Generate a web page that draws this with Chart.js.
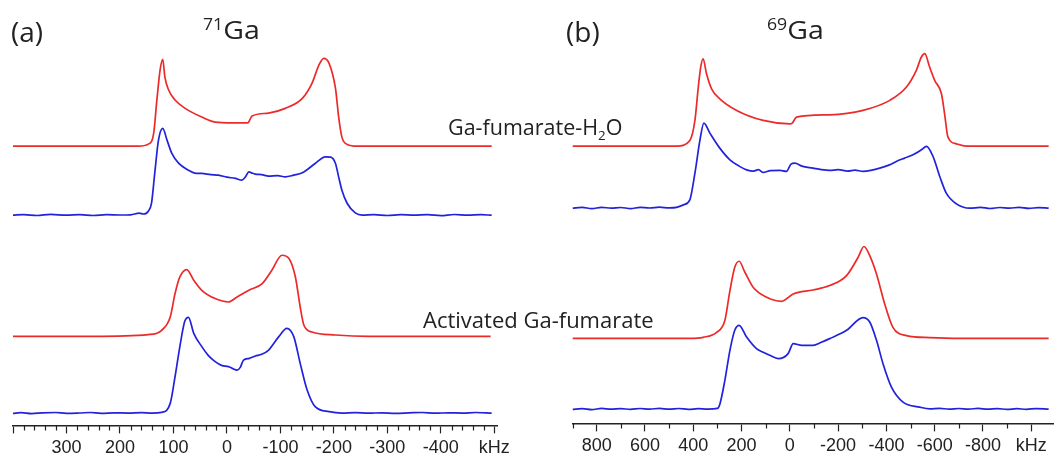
<!DOCTYPE html>
<html>
<head>
<meta charset="utf-8">
<script src="https://cdn.jsdelivr.net/npm/chart.js@4.4.1/dist/chart.umd.min.js"></script>
<style>
  body { margin:0; background:#fff; width:1060px; height:456px; position:relative; overflow:hidden; font-family: "Open Sans", Lato, sans-serif; color:#222; }
  .panel { position:absolute; top:0; width:530px; }
  .lbl { position:absolute; white-space:nowrap; line-height:1; }
  .wide { transform: scaleX(1.14); transform-origin: left top; }
  sup, sub { font-size:62%; line-height:0; }
</style>
</head>
<body>
<div class="panel" style="left:0;height:463px"><canvas id="ga71"></canvas></div>
<div class="panel" style="left:530px;height:461px"><canvas id="ga69"></canvas></div>
<div class="lbl" style="left:11px;top:17px;font-size:28px">(a)</div>
<div class="lbl wide" style="left:203px;top:17px;font-size:25px"><sup>71</sup>Ga</div>
<div class="lbl" style="left:566px;top:17px;font-size:28px">(b)</div>
<div class="lbl wide" style="left:767px;top:17px;font-size:25px"><sup>69</sup>Ga</div>
<div class="lbl" style="left:448px;top:116px;font-size:21.5px">Ga-fumarate-H<sub>2</sub>O</div>
<div class="lbl" style="left:423px;top:308px;font-size:22px">Activated Ga-fumarate</div>
<script>
// spectra: [kHz, intensity above own baseline (a.u.)]
// (a) 71Ga
const ga71_h2o_sim = [[400,0],[250,0],[165,0],[147,2],[137,12.7],[131,46],[125,76],[120,86.7],[116,69],[109,56],[97,46],[78,37.7],[47,29],[22,24],[-10,23.3],[-39,23.3],[-47,30],[-78,33],[-109,37.7],[-141,47.7],[-159,62.7],[-172,81],[-181,87.7],[-191,82.7],[-203,57.7],[-209,28.7],[-215,9],[-225,1.7],[-244,0],[-350,0],[-495,0]];
const ga71_h2o_exp = [[400,0],[380,0.6],[355,-0.3],[330,0.8],[300,0],[275,0.6],[250,-0.3],[225,0.5],[200,0.2],[180,0.4],[164,2],[156,1.2],[147,4],[141,12],[135,41.7],[128,75],[120,86.7],[112,75],[103,61.7],[90,51.7],[72,45],[60,42],[47,41.7],[30,40.5],[16,40],[0,38],[-16,36.7],[-28,35],[-35,38.5],[-41,43.3],[-47,42],[-53,41],[-65,40.5],[-78,39],[-95,39.5],[-109,38.3],[-125,40],[-141,42.3],[-165,51.7],[-184,58.3],[-194,58],[-203,51.7],[-209,38],[-215,25],[-225,11.7],[-240,2.3],[-253,0],[-275,0.5],[-300,-0.3],[-325,0.6],[-350,0],[-375,0.5],[-400,-0.4],[-425,0.7],[-450,0],[-475,0.5],[-495,0]];
const ga71_act_sim = [[400,0],[250,0],[147,1.7],[122,6],[106,19.3],[97,42.7],[88,59.3],[75,66.7],[62,56],[47,46],[22,37.7],[-3,34.3],[-19,39.3],[-41,46],[-66,52.7],[-84,66],[-103,81],[-116,77.7],[-128,59.3],[-137,29.3],[-144,11],[-159,4.3],[-203,1.3],[-266,0],[-493,0]];
const ga71_act_exp = [[400,0],[385,0.8],[365,-0.2],[345,0.5],[320,0.9],[300,0],[275,0.4],[255,0.9],[235,0.1],[210,0.6],[185,0.3],[160,0.8],[140,0.2],[122,1],[106,10],[97,36.7],[88,66.7],[79,91.7],[72,96],[62,80],[47,66.7],[35,58],[22,51.7],[10,48],[-3,46.7],[-10,45],[-19,43.3],[-25,46],[-31,53.3],[-42,55],[-53,57.3],[-65,59],[-78,63.3],[-97,76.7],[-112,85],[-125,76.7],[-137,50],[-150,23.3],[-165,6.7],[-191,1.7],[-215,0.3],[-240,0.8],[-265,0.2],[-290,0.6],[-315,0.1],[-340,0.5],[-365,0.9],[-390,0.2],[-415,0.6],[-440,0.3],[-465,0.9],[-495,0.3]];
const ga71_offsets = [279, 210, 89, 12];

// (b) 69Ga
const ga69_h2o_sim = [[900,0],[600,0],[469,0],[414,5.7],[393,25.7],[379,59],[369,79],[359,87.3],[345,72.3],[324,57.3],[290,47.3],[220,35.7],[110,25.7],[0,22.3],[-10,23],[-28,29],[-165,31.3],[-303,35.7],[-414,45.7],[-483,59],[-524,75.7],[-545,89],[-559,92.3],[-579,79],[-600,65.7],[-628,52.3],[-641,32.3],[-655,9],[-690,2.3],[-731,0],[-900,0],[-1072,0]];
const ga69_h2o_exp = [[900,0],[860,0.8],[820,-0.5],[780,0.9],[740,0],[700,0.7],[660,-0.4],[620,0.8],[580,0.2],[540,1],[500,0.3],[469,0.8],[441,3.3],[414,8.3],[393,35],[372,68.3],[356,85],[331,75],[290,60],[248,48.3],[210,42],[179,38.3],[150,37],[130,38.5],[110,35.7],[80,37.5],[41,37.7],[14,36.7],[-5,44],[-21,45],[-50,42],[-96,40],[-130,38.5],[-165,37.7],[-200,38.5],[-240,37],[-270,38],[-303,36.7],[-340,38],[-372,40],[-410,43],[-441,46.7],[-475,50],[-510,53.3],[-545,58.3],[-566,61.7],[-593,51.7],[-621,31.7],[-648,15],[-690,4.3],[-745,0],[-790,0.8],[-830,-0.3],[-870,0.7],[-910,0],[-950,0.8],[-990,-0.2],[-1030,0.6],[-1072,0]];
const ga69_act_sim = [[900,0],[600,0],[414,0],[359,1],[303,6],[269,17.7],[248,47.7],[228,71],[210,77],[186,66],[152,51],[96,41],[34,37],[-14,44.3],[-96,48.3],[-165,52.7],[-235,62.7],[-283,81],[-307,91.7],[-331,82.7],[-359,64.3],[-393,34.3],[-427,11],[-483,2.7],[-579,0.7],[-700,0],[-1072,0]];
const ga69_act_exp = [[900,0],[860,0.7],[820,-0.3],[780,1],[740,0.2],[700,0.8],[660,0],[620,0.9],[580,0.3],[540,1],[500,0.2],[460,0.9],[420,0],[380,0.7],[340,0.2],[300,1],[290,5],[269,29],[248,59],[228,79],[210,84],[179,72.3],[138,60.7],[110,57],[83,54],[48,50.7],[7,55.7],[-14,65.7],[-50,64],[-96,64],[-130,67],[-165,70.7],[-235,79],[-303,91.7],[-331,87.3],[-359,69],[-386,45.7],[-421,22.3],[-469,7.3],[-538,2.3],[-580,0.5],[-620,1.1],[-660,0.2],[-700,0.9],[-740,0.3],[-780,1],[-820,0.2],[-860,0.8],[-900,0],[-940,0.7],[-980,0.1],[-1020,0.8],[-1072,0.2]];
const ga69_offsets = [277, 215, 85, 14];

// axis ticks
const ga71_major = [400, 300, 200, 100, 0, -100, -200, -300, -400, -500];
const ga71_labels = ['', '300', '200', '100', '0', '-100', '-200', '-300', '-400', 'kHz'];
const ga69_major = [800, 600, 400, 200, 0, -200, -400, -600, -800, -1000];
const ga69_labels = ['800', '600', '400', '200', '0', '-200', '-400', '-600', '-800', 'kHz'];

const RED = '#ec2a2a';
const BLUE = '#2222dc';
const AXIS = '#222';

// short ticks between the labelled ones
const minorTicks = {
  id: 'minorTicks',
  afterDraw(chart, args, opts) {
    const sc = chart.scales.x;
    const ctx = chart.ctx;
    ctx.save();
    ctx.strokeStyle = AXIS;
    ctx.lineWidth = 1.2;
    ctx.beginPath();
    for (let v = opts.from; v >= opts.to; v -= opts.step) {
      if (opts.skip.includes(v)) continue;
      const px = Math.round(sc.getPixelForValue(v)) + 0.5;
      ctx.moveTo(px, sc.top);
      ctx.lineTo(px, sc.top + opts.len);
    }
    ctx.stroke();
    ctx.restore();
  }
};

function toXY(arr, off) {
  return arr.map(p => ({ x: p[0], y: p[1] + off }));
}

function makePanel(id, traces, offsets, xmin, xmax, major, labels, minor, yMax, padL, padR) {
  const colors = [RED, BLUE, RED, BLUE];
  new Chart(document.getElementById(id), {
    type: 'line',
    data: {
      datasets: traces.map((t, i) => ({
        data: toXY(t, offsets[i]),
        borderColor: colors[i],
        borderWidth: 1.7,
        pointRadius: 0,
        cubicInterpolationMode: 'monotone',
        fill: false
      }))
    },
    options: {
      responsive: true,
      maintainAspectRatio: false,
      animation: false,
      layout: { padding: { left: padL, right: padR, top: 30, bottom: 0 } },
      plugins: {
        legend: { display: false },
        tooltip: { enabled: false },
        minorTicks: minor
      },
      scales: {
        x: {
          type: 'linear',
          reverse: true,
          min: xmin,
          max: xmax,
          afterBuildTicks: sc => { sc.ticks = major.map(v => ({ value: v })); },
          border: { display: true, color: AXIS, width: 1.6 },
          grid: { drawOnChartArea: false, drawTicks: true, tickLength: 8, tickColor: AXIS, tickWidth: 1.2 },
          ticks: {
            autoSkip: false,
            maxRotation: 0,
            padding: 4,
            color: '#222',
            font: { family: '"Liberation Sans", Arial, sans-serif', size: 18 },
            callback: (v) => labels[major.indexOf(v)]
          }
        },
        y: { display: false, min: 0, max: yMax }
      }
    },
    plugins: [minorTicks]
  });
}

makePanel('ga71', [ga71_h2o_sim, ga71_h2o_exp, ga71_act_sim, ga71_act_exp], ga71_offsets,
  -505, 400, ga71_major, ga71_labels,
  { from: 400, to: -500, step: 20, len: 5, skip: ga71_major }, 395, 13, 33);
makePanel('ga69', [ga69_h2o_sim, ga69_h2o_exp, ga69_act_sim, ga69_act_exp], ga69_offsets,
  -1090, 900, ga69_major, ga69_labels,
  { from: 900, to: -900, step: 100, len: 5, skip: ga69_major }, 393, 42.5, 7);
</script>
</body>
</html>
